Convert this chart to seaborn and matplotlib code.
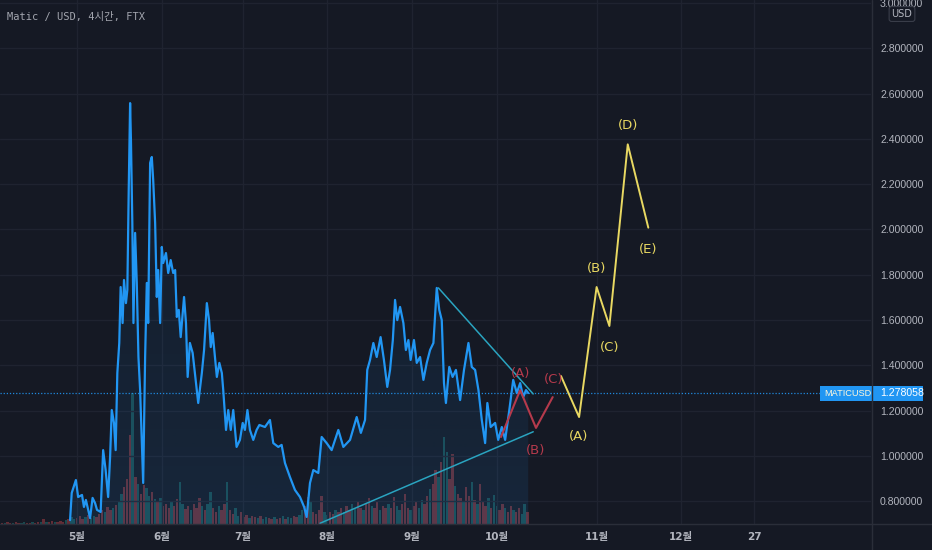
import numpy as np
import pandas as pd
import seaborn as sns
import matplotlib
matplotlib.use("Agg")
import matplotlib.pyplot as plt
import matplotlib.transforms as mtransforms
from matplotlib.patches import Rectangle
from matplotlib.lines import Line2D

# ---------------- data (x = days since May 1, y = price in USD) ----------------
price_day = [-2.5, -1.9, -0.4, 0.4, 1.8, 2.5, 3.2, 4.7, 5.6, 6.5, 7.2, 8.5, 9.4, 10.3, 11.2, 11.9,
             12.5, 13.3, 13.9, 14.5, 15.2, 15.7, 16.4, 16.9, 17.6, 18.1, 18.6, 19.1, 19.4, 19.9,
             20.3, 20.9, 21.5, 22.1, 22.7, 23.3, 23.8, 24.5, 25.1, 25.6, 26.3, 26.9, 27.4, 28.1,
             28.7, 29.2, 29.9, 30.5, 31.0, 32.0, 32.8, 33.7, 34.6, 35.3, 35.9, 36.6, 37.3, 38.5,
             39.2, 39.8, 40.6, 41.6, 42.4, 43.6, 44.9, 45.7, 46.7, 47.5, 48.1, 48.8, 49.6, 50.3,
             51.2, 52.1, 52.6, 53.6, 54.4, 55.3, 56.2, 57.4, 58.6, 59.6, 60.4, 61.3, 62.2, 63.4,
             64.6, 65.6, 67.6, 69.4, 70.6, 72.4, 73.6, 74.8, 76.6, 78.4, 80.2, 81.7, 82.6, 83.8,
             85.0, 86.8, 88.0, 89.8, 91.6, 94.0, 95.8, 98.2, 100.6, 102.1, 103.6, 104.4, 105.4,
             106.6, 107.8, 109.2, 110.4, 111.6, 112.6, 113.6, 114.4, 115.2, 116.2, 117.4, 118.3,
             119.2, 120.0, 121.2, 122.2, 123.4, 124.6, 125.8, 127.0, 128.2, 129.4, 130.3, 131.2,
             132.0, 132.7, 133.9, 135.1, 136.3, 137.8, 139.2, 140.8, 142.0, 143.2, 144.4, 145.6,
             146.8, 147.6, 148.8, 150.4, 151.5, 152.8, 154.0, 155.5, 156.9, 158.2, 159.4, 160.5,
             161.5, 162.3]
price_val = [0.717, 0.837, 0.894, 0.819, 0.828, 0.775, 0.806, 0.726, 0.815, 0.792, 0.762, 0.753,
             1.026, 0.938, 0.819, 0.996, 1.203, 1.146, 1.026, 1.366, 1.499, 1.746, 1.587, 1.777,
             1.675, 1.733, 2.174, 2.558, 2.395, 2.029, 1.587, 1.985, 1.764, 1.437, 1.291, 1.071,
             0.881, 1.437, 1.764, 1.587, 2.294, 2.320, 2.219, 2.029, 1.702, 1.821, 1.587, 1.923,
             1.852, 1.896, 1.808, 1.865, 1.808, 1.821, 1.614, 1.645, 1.525, 1.702, 1.587, 1.349,
             1.499, 1.455, 1.366, 1.234, 1.366, 1.468, 1.675, 1.600, 1.481, 1.543, 1.437, 1.349,
             1.411, 1.366, 1.291, 1.115, 1.203, 1.115, 1.203, 1.040, 1.071, 1.146, 1.115, 1.203,
             1.115, 1.071, 1.115, 1.137, 1.128, 1.159, 1.057, 1.040, 1.049, 0.969, 0.907, 0.850,
             0.819, 0.775, 0.731, 0.881, 0.938, 0.925, 1.084, 1.057, 1.026, 1.115, 1.040, 1.071,
             1.172, 1.102, 1.159, 1.380, 1.424, 1.499, 1.437, 1.525, 1.424, 1.305, 1.380, 1.512,
             1.689, 1.600, 1.658, 1.587, 1.468, 1.512, 1.424, 1.512, 1.411, 1.437, 1.336, 1.411,
             1.468, 1.499, 1.742, 1.645, 1.600, 1.322, 1.234, 1.393, 1.349, 1.380, 1.247, 1.380,
             1.499, 1.393, 1.380, 1.291, 1.159, 1.057, 1.234, 1.128, 1.146, 1.071, 1.128, 1.071,
             1.203, 1.336, 1.278, 1.322, 1.260, 1.291, 1.278]
last_price = 1.278058

# daily volume (arbitrary units), days -27 .. 162
vol_day = list(range(-27, 163))
vol_val = [1, 1, 2, 1, 1, 2, 1, 1, 2, 1, 1, 2, 1, 2,
           2,
           5, 2, 2, 3, 2, 2, 3, 2, 4, 5, 7, 5,
           6, 8, 5, 7, 9, 6, 8, 7, 10, 14,
           12, 17, 14, 16, 19, 22, 30, 37, 45, 89,
           131, 47, 40, 30, 39, 36, 28, 32, 25, 22,
           26, 18, 20, 16, 22, 18, 25, 42, 20, 15,
           18, 14, 20, 16, 26, 18, 14, 20, 32, 16,
           12, 18, 14, 20, 42, 14, 10, 16, 8, 12,
           7, 9, 6, 8, 7, 6, 8, 5, 7, 6,
           5, 7, 5, 6, 8, 5, 7, 6, 8, 7,
           9, 14, 18, 27, 22, 12, 10, 14, 28, 12,
           9, 12, 10, 14, 12, 16, 12, 18, 14, 20,
           15, 22, 16, 14, 20, 26, 18, 16, 22, 14,
           18, 16, 20, 16, 27, 18, 14, 20, 30, 16,
           14, 18, 22, 16, 24, 20, 28, 35, 40, 54,
           47, 62, 87, 72, 45, 70, 38, 30, 26, 22,
           37, 28, 42, 24, 20, 40, 22, 18, 26, 16,
           29, 18, 14, 20, 16, 12, 18, 14, 12, 16,
           10, 20, 12]
vol_dir = ("duddudduudduddududd" "uddduduuddduduudddu" "dduduudddududduudud"
           "udddudduudduddduduu" "dduddudduuddduddudu" "uddudduduudduuddudd"
           "dduudduddudduuddudd" "udduddudduudddudduu" "ddudduduuddudduddud"
           "uddduduudduddudduud")

# trend lines
upper_day = [130.0, 164.1]
upper_val = [1.742, 1.274]
lower_day = [87.4, 164.1]
lower_val = [0.703, 1.107]

# red ABC projection
red_day = [152.5, 159.4, 165.1, 171.1]
red_val = [1.084, 1.291, 1.124, 1.260]
red_lbl = ["(A)", "(B)", "(C)"]
red_lbl_day = [159.6, 165.1, 171.3]
red_lbl_val = [1.365, 1.026, 1.336]

# yellow projection
yel_day = [174.1, 180.6, 186.9, 191.5, 198.1, 205.5]
yel_val = [1.353, 1.172, 1.746, 1.574, 2.376, 2.008]
yel_lbl = ["(A)", "(B)", "(C)", "(D)", "(E)"]
yel_lbl_day = [180.3, 186.9, 191.5, 198.1, 205.5]
yel_lbl_val = [1.085, 1.829, 1.478, 2.457, 1.913]

# axis ticks
x_tick_pos = [0, 30.6, 59.7, 89.9, 120.5, 151.1, 187.1, 217.3, 243.5]
x_tick_lbl = ["5월", "6월", "7월", "8월", "9월", "10월", "11월", "12월", "27"]
y_tick_vals = [0.8, 1.0, 1.2, 1.4, 1.6, 1.8, 2.0, 2.2, 2.4, 2.6, 2.8, 3.0]

# ---------------- style ----------------
sns.set_theme(style="dark")
plt.rcParams['font.family'] = ['DejaVu Sans', 'Noto Sans CJK KR']

BG = '#151924'
GRID = '#1f2330'
AXTXT = '#b2b5be'
BLUE = '#2196f3'
TEAL = '#2aa4c0'
RED = '#b53a4c'
YEL = '#e8d862'

W, H = 932, 550
fig = plt.figure(figsize=(W / 100, H / 100), dpi=100, facecolor=BG)
rect = [0, 26 / H, 871 / W, 524 / H]
ax_v = fig.add_axes(rect)
ax = fig.add_axes(rect, sharex=ax_v)
ax_v.set_zorder(0)
ax.set_zorder(1)
ax_v.set_facecolor(BG)
ax.patch.set_visible(False)

XMIN, XMAX = -27.7, 285.6
YMIN, YMAX = 0.6998, 3.0132

# ---- volume ----
vdf = pd.DataFrame({"day": vol_day, "vol": vol_val})
vcols = ['#d04a50' if c == 'd' else '#228f8f' for c in vol_dir[:len(vol_val)]]
ax_v.bar(vdf["day"], vdf["vol"], width=0.85, color=vcols, alpha=0.42, linewidth=0)
ax_v.set_ylim(0, 524)
ax_v.set_xlim(XMIN, XMAX)
ax_v.axis('off')

# ---- price area gradient ----
pdf = pd.DataFrame({"day": price_day, "price": price_val})
poly = ax.fill_between(pdf["day"], pdf["price"], YMIN, color='none', lw=0)
grad = np.zeros((256, 2, 4))
grad[:, :, 0] = 0x21 / 255
grad[:, :, 1] = 0x96 / 255
grad[:, :, 2] = 0xf3 / 255
grad[:, :, 3] = np.linspace(0.11, 0.02, 256)[:, None]
img = ax.imshow(grad, extent=[XMIN, XMAX, 2.6, YMIN], origin='upper', aspect='auto', zorder=1)
img.set_clip_path(poly.get_paths()[0], transform=ax.transData)

# ---- grid ----
for yv in y_tick_vals:
    ax.axhline(yv, color=GRID, lw=1, zorder=0.5)
for xv in x_tick_pos:
    ax.axvline(xv, color=GRID, lw=1, zorder=0.5)

# ---- price line ----
sns.lineplot(data=pdf, x="day", y="price", ax=ax, color=BLUE, linewidth=1.6, zorder=4)
ax.axhline(last_price, color=BLUE, ls=(0, (1, 1.5)), lw=0.9, alpha=0.9, zorder=3)

# ---- trend lines ----
sns.lineplot(x=upper_day, y=upper_val, ax=ax, color=TEAL, linewidth=1.1, zorder=5)
sns.lineplot(x=lower_day, y=lower_val, ax=ax, color=TEAL, linewidth=1.1, zorder=5)

# ---- projections ----
sns.lineplot(x=red_day, y=red_val, ax=ax, color=RED, linewidth=1.5, zorder=6)
sns.lineplot(x=yel_day, y=yel_val, ax=ax, color=YEL, linewidth=1.4, zorder=6)
for t, xd, yd in zip(red_lbl, red_lbl_day, red_lbl_val):
    ax.text(xd, yd, t, color=RED, fontsize=9.5, ha='center', va='center', zorder=7)
for t, xd, yd in zip(yel_lbl, yel_lbl_day, yel_lbl_val):
    ax.text(xd, yd, t, color=YEL, fontsize=9.5, ha='center', va='center', zorder=7)

# ---- axes ----
ax.set_xlim(XMIN, XMAX)
ax.set_ylim(YMIN, YMAX)
ax.grid(False)
for s in ax.spines.values():
    s.set_visible(False)
ax.yaxis.tick_right()
ax.set_yticks(y_tick_vals)
ax.set_yticklabels([f"{v:.6f}" for v in y_tick_vals], family='Liberation Sans')
ax.tick_params(axis='y', length=0, pad=6.5, labelsize=7.6, labelcolor=AXTXT)
ax.set_xticks(x_tick_pos)
ax.set_xticklabels(x_tick_lbl, fontweight='bold')
ax.tick_params(axis='x', length=0, pad=5.5, labelsize=7.5, labelcolor=AXTXT)
ax.set_xlabel("")
ax.set_ylabel("")

# price label box
trans = mtransforms.blended_transform_factory(ax.transAxes, ax.transData)
bh = 15 / 226.5
ax.add_patch(Rectangle((820 / 871, last_price - bh / 2), 103 / 871, bh, transform=trans,
                       facecolor=BLUE, edgecolor='none', clip_on=False, zorder=10))
ax.text(824 / 871, last_price, "MATICUSD", transform=trans, color='#fff8dc', fontsize=6.6,
        family='Liberation Sans', ha='left', va='center', clip_on=False, zorder=11)
ax.text(880 / 871, last_price, f"{last_price:.6f}", transform=trans, color='white', fontsize=7.6,
        family='Liberation Sans', ha='left', va='center', clip_on=False, zorder=11)

# separators
fig.add_artist(Line2D([871.5 / W] * 2, [0, 1], transform=fig.transFigure, color='#2a2e39', lw=1))
fig.add_artist(Line2D([0, 1], [26 / H] * 2, transform=fig.transFigure, color='#2a2e39', lw=1))

# title & currency badge
fig.text(7 / W, 1 - 17 / H, "Matic / USD, 4시간, FTX", color='#a3a6af', fontsize=7.5,
         family=['DejaVu Sans Mono', 'Noto Sans CJK KR'], ha='left', va='center')
fig.text(902 / W, 1 - 14 / H, "USD", color=AXTXT, fontsize=7, ha='center', va='center',
         bbox=dict(boxstyle='round,pad=0.25', fc=BG, ec='#3a3e4a', lw=0.8), zorder=20)

fig.savefig("out.png", dpi=100, facecolor=BG)
